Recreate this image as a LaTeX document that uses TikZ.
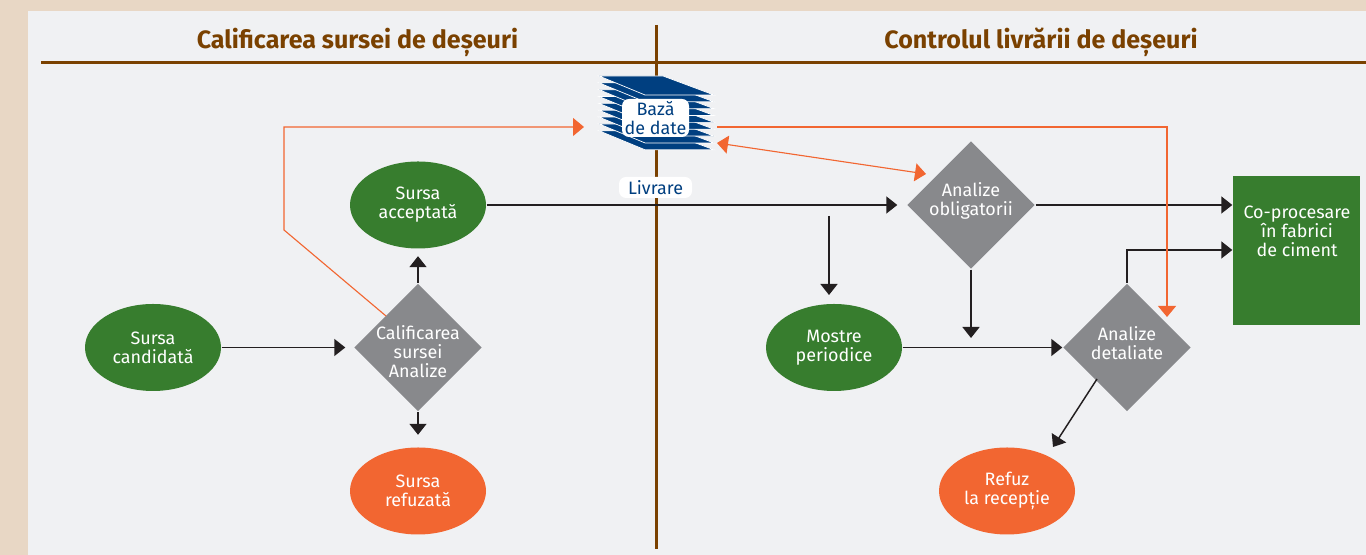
\documentclass[tikz,border=0pt]{standalone}
\usepackage{fontspec}
\setmainfont{Fira Sans}
\usetikzlibrary{shapes.geometric,arrows.meta}
\definecolor{sandbg}{HTML}{E8D7C5}
\definecolor{panelbg}{HTML}{F0F1F3}
\definecolor{brownline}{HTML}{7A4100}
\definecolor{leafgreen}{HTML}{377D2E}
\definecolor{rustorange}{HTML}{F26631}
\definecolor{stonegray}{HTML}{88898C}
\definecolor{inkblack}{HTML}{231F20}
\definecolor{baseblue}{HTML}{003F80}
\tikzset{
  bodytext/.style={font=\fontsize{5.1}{5.35}\selectfont,align=center},
  okoval/.style={ellipse,fill=leafgreen,text=white,bodytext,minimum width=1.36cm,minimum height=.87cm,inner sep=0pt},
  badoval/.style={okoval,fill=rustorange},
  testdiamond/.style={diamond,aspect=1,fill=stonegray,minimum width=1.28cm,minimum height=1.28cm,inner sep=0pt},
  difftext/.style={bodytext,text=white,inner sep=0pt},
  whitetag/.style={fill=white,rounded corners=.07cm,text=baseblue,bodytext,inner sep=0pt},
  blackflow/.style={draw=inkblack,line width=.42pt,-{Triangle[length=.11cm,width=.17cm]}},
  orangeflow/.style={draw=rustorange,line width=.32pt,-{Triangle[length=.11cm,width=.18cm]}},
  titletext/.style={font=\fontsize{7.13}{8}\selectfont\bfseries,text=brownline,inner sep=0pt}
}
\begin{document}
\begin{tikzpicture}
\useasboundingbox (0,0) rectangle (13.66,5.55);
\fill[sandbg] (0,0) rectangle (13.66,5.55);
\fill[panelbg] (.28,0) rectangle (13.66,5.44);

\draw[brownline,line width=.85pt] (.41,4.925) -- (13.66,4.925);
\draw[brownline,line width=.85pt] (6.56,5.30) -- (6.56,.06);
\node[titletext] (lefttitle) at (3.575,5.125) {Calificarea sursei de deșeuri};
\node[titletext] (righttitle) at (10.41,5.125) {Controlul livrării de deșeuri};

% stack of sheets
\foreach \i in {8,...,0}
  \filldraw[fill=baseblue,draw=white,line width=.2pt,yshift=-\i*.0685cm]
    (5.99,4.79) -- (6.63,4.79) -- (7.14,4.60) -- (6.45,4.60) -- cycle;
\node[whitetag,minimum width=.67cm,minimum height=.38cm] (base) at (6.555,4.37) {Bază\\de date};
\node[whitetag,minimum width=.73cm,minimum height=.21cm] (delivery) at (6.555,3.675) {Livrare};

% ovals and tests
\node[okoval] (candidate) at (1.53,2.075) {Sursa\\candidată};
\node[okoval] (accepted) at (4.18,3.50) {Sursa\\acceptată};
\node[badoval] (refused) at (4.18,.64) {Sursa\\refuzată};
\node[okoval] (samples) at (8.34,2.075) {Mostre\\periodice};
\node[badoval] (rejected) at (10.07,.64) {Refuz\\la recepție};
\node[testdiamond,label={[difftext,yshift=-.04cm]center:{Calificarea\\sursei\\Analize}}] (qualify) at (4.18,2.075) {};
\node[testdiamond,label={[difftext,yshift=.04cm]center:{Analize\\obligatorii}}] (mandatory) at (9.71,3.50) {};
\node[testdiamond,label={[difftext,yshift=.04cm]center:{Analize\\detaliate}}] (detailed) at (11.27,2.075) {};
\node[fill=leafgreen,minimum width=1.27cm,minimum height=1.49cm,inner sep=0pt] (plant) at (12.965,3.045) {};
\node[difftext] (planttext) at (12.97,3.235) {Co-procesare\\în fabrici\\de ciment};

% free ends
\coordinate (branchstart) at (8.29,3.39);
\coordinate (branchend) at (8.29,2.60);
\coordinate (mandatoryend) at (9.71,2.17);
\coordinate (detailedcorner) at (11.27,3.05);
\coordinate (qualifycorner) at (2.84,3.25);
\coordinate (basecorner) at (2.84,4.28);
\coordinate (orangecorner) at (11.67,4.28);
\coordinate (orangestart) at (7.17,4.28);
\coordinate (orangeend) at (11.67,2.38);
\coordinate (basearrow) at (5.84,4.28);
\coordinate (qualifyleave) at (3.86,2.39);
\coordinate (baseside) at (7.17,4.12);
\coordinate (mandatoryside) at (9.26,3.81);
\coordinate (detailedleave) at (10.97,1.76);
\coordinate (rejectedtop) at (10.53,1.08);

% black connectors
\draw[blackflow,shorten >=.08cm] (candidate) -- (qualify);
\draw[blackflow,shorten >=.07cm] (qualify.north) -- (accepted.south);
\draw[blackflow,shorten >=.12cm] (qualify.south) -- (refused.north);
\draw[blackflow,shorten >=.09cm] (accepted) -- (mandatory);
\draw[blackflow] (branchstart) -- (branchend);
\draw[blackflow] (mandatory.south) -- (mandatoryend);
\draw[blackflow] (samples) -- (detailed);
\draw[blackflow] (mandatory) -- (mandatory -| plant.west);
\draw[blackflow] (detailed.north) -- (detailedcorner) -- (detailedcorner -| plant.west);
\draw[blackflow] (detailedleave) -- (rejectedtop);

% orange connectors
\draw[orangeflow] (qualifyleave) -- (qualifycorner) -- (basecorner) -- (basearrow);
\draw[orangeflow] (orangestart) -- (orangecorner) -- (orangeend);
\draw[orangeflow,{Triangle[length=.11cm,width=.18cm]}-{Triangle[length=.11cm,width=.18cm]}] (baseside) -- (mandatoryside);
\end{tikzpicture}
\end{document}
